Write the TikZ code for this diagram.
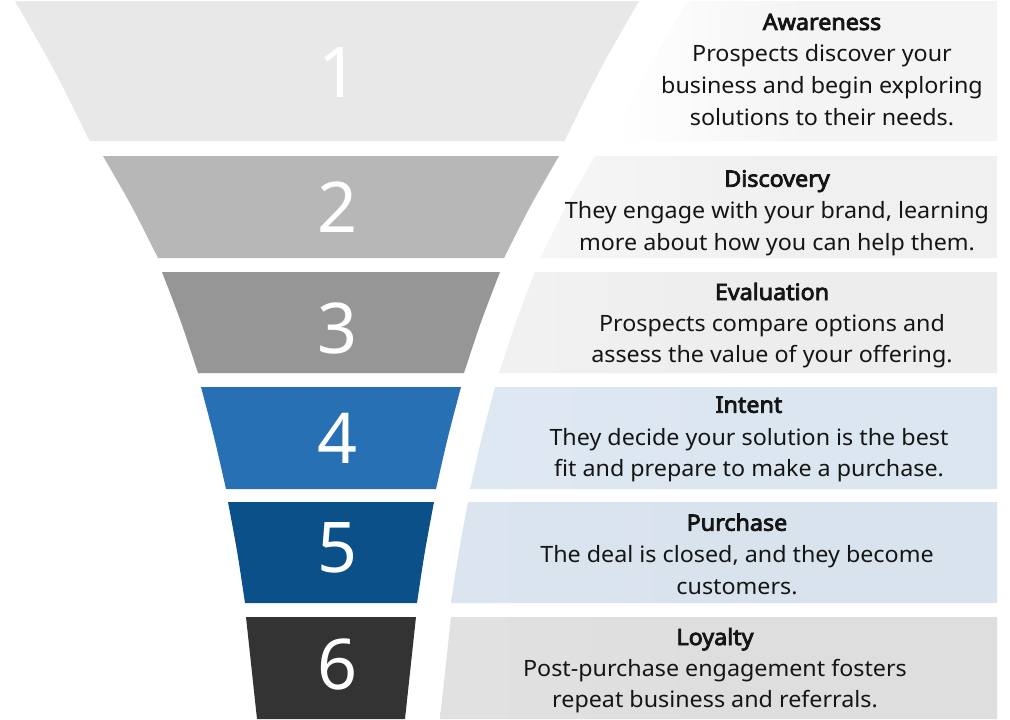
\documentclass[tikz,border=0pt]{standalone}
\usepackage{fontspec}
\setmainfont{Noto Sans}[AutoFakeBold=2.2]
\newfontfamily\bodyfont{Noto Sans}[FakeStretch=1.035, AutoFakeBold=3.6]
\definecolor{bA}{HTML}{E8E8E8}
\definecolor{bB}{HTML}{B7B7B7}
\definecolor{bC}{HTML}{969696}
\definecolor{bD}{HTML}{2870B4}
\definecolor{bE}{HTML}{0B5088}
\definecolor{bF}{HTML}{333333}
\definecolor{pA}{HTML}{F4F4F4}
\definecolor{pB}{HTML}{F0F0F0}
\definecolor{pC}{HTML}{EDEDED}
\definecolor{pD}{HTML}{DCE6F1}
\definecolor{pE}{HTML}{D9E3EE}
\definecolor{pF}{HTML}{DEDEDE}
\definecolor{ink}{HTML}{151515}
% #1 centre x, #2 top y, #3 bottom y, #4 top half width, #5 bottom half width, #6 bulge, #7 colour
\newcommand\fband[7]{\fill[#7] ({#1-#4},#2) .. controls ({#1-(#4+#5)/2+#6},{(#2+#3)/2}) .. ({#1-#5},#3) -- ({#1+#5},#3) .. controls ({#1+(#4+#5)/2-#6},{(#2+#3)/2}) .. ({#1+#4},#2) -- cycle;}
% #1 centre x, #2 top y, #3 bottom y, #4 top half width, #5 bottom half width, #6 bulge, #7 offset, #8 colour, #9 left colour
\newcommand\fpanel[9]{\shade[left color=#9, right color=#8, middle color=#8] ({#1+#4+#7},#2) .. controls ({#1+(#4+#5)/2-#6+#7},{(#2+#3)/2}) .. ({#1+#5+#7},#3) -- (997,#3) -- (997,#2) -- cycle;}
\tikzset{
  ttl/.style={font=\bodyfont\bfseries\fontsize{22.5}{27}\selectfont, text=ink, anchor=base, inner sep=0pt},
  txt/.style={font=\bodyfont\fontsize{22.5}{27}\selectfont, text=ink, anchor=base, inner sep=0pt},
  num/.style={font=\fontsize{70}{70}\selectfont, text=white, anchor=base, inner sep=0pt}
}
\begin{document}
\begin{tikzpicture}[x=1pt,y=-1pt]
\useasboundingbox (0,0) rectangle (1010,720);
\fill[white] (0,0) rectangle (1010,720);
% funnel bands
\fband{327}{1}{141}{312}{237.5}{3}{bA}
\fband{331}{156}{258}{228}{173}{2}{bB}
\fband{331}{272}{373}{169}{133}{1.5}{bC}
\fband{331}{387}{489}{130}{105}{1}{bD}
\fband{331}{502}{603}{103}{86}{1}{bE}
\fband{331}{617}{719}{85}{74}{0.5}{bF}
% panels
\fpanel{327}{1}{141}{312}{237.5}{3}{48}{pA}{white}
\fpanel{331}{156}{258}{228}{173}{2}{36}{pB}{pB!60!white}
\fpanel{331}{272}{373}{169}{133}{1.5}{35}{pC}{pC!75!white}
\fpanel{331}{387}{489}{130}{105}{1}{34}{pD}{pD!93!white}
\fpanel{331}{502}{603}{103}{86}{1}{34}{pE}{pE!95!white}
\fpanel{331}{617}{719}{85}{74}{0.5}{35}{pF}{pF!90!white}
% numbers
\node[num] (n1) at (339,97) {1};
\node[num] (n2) at (338,232) {2};
\node[num] (n3) at (338,353) {3};
\node[num] (n4) at (338,463) {4};
\node[num] (n5) at (338,572) {5};
\node[num] (n6) at (338,689) {6};
% texts
\node[ttl] (t1) at (822,30) {Awareness};
\node[txt] (t1a) at (822,61.7) {Prospects discover your};
\node[txt] (t1b) at (822,93.3) {business and begin exploring};
\node[txt] (t1c) at (822,125) {solutions to their needs.};
\node[ttl] (t2) at (777,186.7) {Discovery};
\node[txt] (t2a) at (777,218.3) {They engage with your brand, learning};
\node[txt] (t2b) at (777,250) {more about how you can help them.};
\node[ttl] (t3) at (772,300) {Evaluation};
\node[txt] (t3a) at (772,331.7) {Prospects compare options and};
\node[txt] (t3b) at (772,362.7) {assess the value of your offering.};
\node[ttl] (t4) at (749,412.7) {Intent};
\node[txt] (t4a) at (749,445) {They decide your solution is the best};
\node[txt] (t4b) at (749,476.7) {fit and prepare to make a purchase.};
\node[ttl] (t5) at (737,530.7) {Purchase};
\node[txt] (t5a) at (737,562.7) {The deal is closed, and they become};
\node[txt] (t5b) at (737,594.3) {customers.};
\node[ttl] (t6) at (715,645) {Loyalty};
\node[txt] (t6a) at (715,676.7) {Post-purchase engagement fosters};
\node[txt] (t6b) at (715,707.3) {repeat business and referrals.};
\end{tikzpicture}
\end{document}
